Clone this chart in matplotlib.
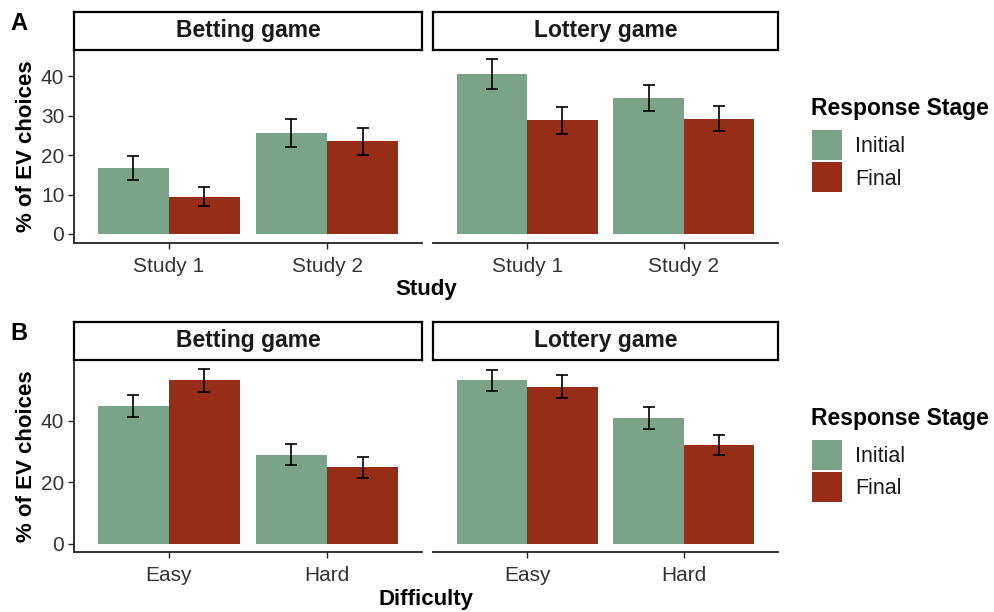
import numpy as np
import matplotlib
matplotlib.use("Agg")
import matplotlib.pyplot as plt
from matplotlib.patches import Rectangle

plt.rcParams["font.family"] = ["Liberation Sans", "DejaVu Sans"]

# ==============================
# Data (% of EV choices, mean and SE)
# ==============================

games = ["Betting game", "Lottery game"]
stages = ["Initial", "Final"]
stage_colors = ["#7BA38A", "#952D17"]

study_labels = ["Study 1", "Study 2"]
study_betting_initial = [16.8, 25.6]
study_betting_final = [9.4, 23.5]
study_lottery_initial = [40.6, 34.5]
study_lottery_final = [28.9, 29.3]
study_betting_initial_se = [3.0, 3.5]
study_betting_final_se = [2.4, 3.4]
study_lottery_initial_se = [3.9, 3.3]
study_lottery_final_se = [3.4, 3.2]

difficulty_labels = ["Easy", "Hard"]
diff_betting_initial = [44.9, 29.0]
diff_betting_final = [53.2, 24.9]
diff_lottery_initial = [53.2, 40.8]
diff_lottery_final = [51.2, 32.1]
diff_betting_initial_se = [3.6, 3.3]
diff_betting_final_se = [3.8, 3.4]
diff_lottery_initial_se = [3.3, 3.6]
diff_lottery_final_se = [3.9, 3.2]

# ==============================
# Layout helpers (pixel boxes)
# ==============================

W, H = 995, 612
fig = plt.figure(figsize=(W / 100, H / 100), dpi=100)


def box(l, t, r, b):
    return [l / W, 1 - b / H, (r - l) / W, (b - t) / H]


AX_GRAY = "#222222"
TICK_GRAY = "#333333"
BAR_W = 0.45
TICK_FS = 15
TITLE_FS = 16


def draw_panel(ax, labels, initial, final, initial_se, final_se, ylim, yticks, show_y):
    x = np.arange(1, len(labels) + 1)
    for offset, vals, se, col in [(-BAR_W / 2, initial, initial_se, stage_colors[0]),
                                  (BAR_W / 2, final, final_se, stage_colors[1])]:
        ax.bar(x + offset, vals, width=BAR_W, color=col, edgecolor="none", zorder=2)
        ax.errorbar(x + offset, vals, yerr=se, fmt="none", ecolor="black",
                    elinewidth=1.2, capsize=4.5, capthick=1.2, zorder=3)
    ax.set_xlim(0.4, len(labels) + 0.6)
    ax.set_ylim(*ylim)
    ax.set_xticks(x)
    ax.set_xticklabels(labels, fontsize=TICK_FS, color=TICK_GRAY)
    for side in ["top", "right"]:
        ax.spines[side].set_visible(False)
    ax.spines["bottom"].set_color(AX_GRAY)
    ax.spines["bottom"].set_linewidth(1.3)
    ax.tick_params(axis="x", length=4, width=1, color=AX_GRAY, pad=6)
    if show_y:
        ax.spines["left"].set_color(AX_GRAY)
        ax.spines["left"].set_linewidth(1.3)
        ax.set_yticks(yticks)
        ax.set_yticklabels([str(t) for t in yticks], fontsize=TICK_FS, color=TICK_GRAY)
        ax.tick_params(axis="y", length=4, width=1, color=AX_GRAY, pad=3)
        ax.set_ylabel("% of EV choices", fontsize=TITLE_FS, fontweight="bold", labelpad=3)
    else:
        ax.spines["left"].set_visible(False)
        ax.set_yticks([])


def draw_strip(l, t, r, b, title):
    sax = fig.add_axes(box(l, t, r, b))
    sax.set_xticks([])
    sax.set_yticks([])
    for sp in sax.spines.values():
        sp.set_linewidth(1.6)
        sp.set_color("black")
    sax.text(0.5, 0.5, title, ha="center", va="center", fontsize=16.5,
             fontweight="bold", color="#1A1A1A", transform=sax.transAxes)


def row_ylim(means, ses):
    hi = max(m + s for ms, ss in zip(means, ses) for m, s in zip(ms, ss))
    lo = 0.0
    pad = 0.05 * (hi - lo)
    return (lo - pad, hi + pad)


def draw_legend(top):
    fig.text(811 / W, 1 - (top + 9) / H, "Response Stage", fontsize=16.5,
             fontweight="bold", ha="left", va="center", color="black")
    for i, (stage, col) in enumerate(zip(stages, stage_colors)):
        y0 = top + 30 + i * 32
        fig.add_artist(Rectangle((812 / W, 1 - (y0 + 30) / H), 30 / W, 30 / H,
                                 transform=fig.transFigure, facecolor=col,
                                 edgecolor="none"))
        fig.text(855 / W, 1 - (y0 + 17) / H, stage, fontsize=15.5,
                 ha="left", va="center", color="#1A1A1A")


panel_x = [(74, 422), (433, 778)]

# ==============================
# Row A: by study
# ==============================

study_means = [study_betting_initial, study_betting_final,
               study_lottery_initial, study_lottery_final]
study_ses = [study_betting_initial_se, study_betting_final_se,
             study_lottery_initial_se, study_lottery_final_se]
ylim_a = row_ylim(study_means, study_ses)

for k, (l, r) in enumerate(panel_x):
    ax = fig.add_axes(box(l, 50, r, 242.7))
    draw_panel(ax, study_labels, study_means[2 * k], study_means[2 * k + 1],
               study_ses[2 * k], study_ses[2 * k + 1], ylim_a,
               [0, 10, 20, 30, 40], k == 0)
    draw_strip(l, 12, r, 50, games[k])

fig.text(426 / W, 1 - 290 / H, "Study", fontsize=TITLE_FS, fontweight="bold",
         ha="center", va="center")
fig.text(10 / W, 1 - 23 / H, "A", fontsize=17, fontweight="bold",
         ha="left", va="center")
draw_legend(100)

# ==============================
# Row B: by difficulty
# ==============================

diff_means = [diff_betting_initial, diff_betting_final,
              diff_lottery_initial, diff_lottery_final]
diff_ses = [diff_betting_initial_se, diff_betting_final_se,
            diff_lottery_initial_se, diff_lottery_final_se]
ylim_b = row_ylim(diff_means, diff_ses)

for k, (l, r) in enumerate(panel_x):
    ax = fig.add_axes(box(l, 360, r, 552.3))
    draw_panel(ax, difficulty_labels, diff_means[2 * k], diff_means[2 * k + 1],
               diff_ses[2 * k], diff_ses[2 * k + 1], ylim_b,
               [0, 20, 40], k == 0)
    draw_strip(l, 322, r, 360, games[k])

fig.text(426 / W, 1 - 600 / H, "Difficulty", fontsize=TITLE_FS, fontweight="bold",
         ha="center", va="center")
fig.text(10 / W, 1 - 333 / H, "B", fontsize=17, fontweight="bold",
         ha="left", va="center")
draw_legend(410)

fig.savefig("out.png", dpi=100)
